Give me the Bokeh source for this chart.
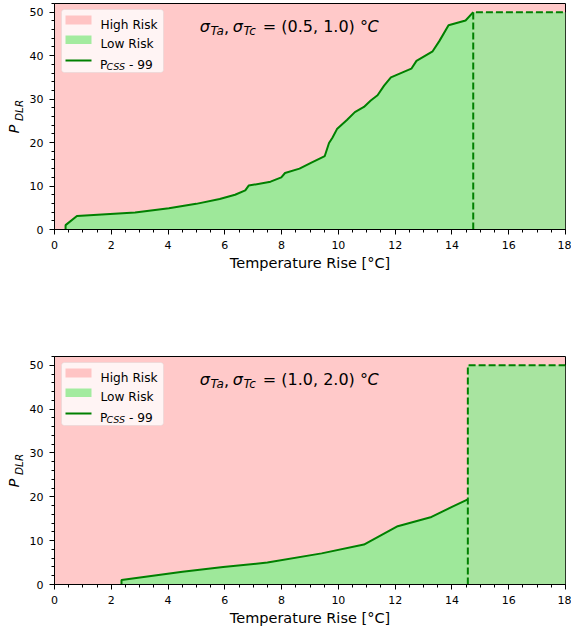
from bokeh.plotting import figure
from bokeh.layouts import column, row
from bokeh.models import Range1d, Label, BoxAnnotation, SingleIntervalTicker
from bokeh.embed import file_html
from bokeh.resources import INLINE

# ---------------- data ----------------
x_max = 18
y_max = 52
p_cap = 50

# panel A: sigma = (0.5, 1.0)
sigma_a = "(0.5, 1.0)"
temp_a = [0.39, 0.39, 0.79, 2.84, 4.03, 4.99, 5.82, 6.36, 6.72, 6.84, 7.61, 7.99,
          8.12, 8.63, 9.05, 9.52, 9.67, 9.79, 9.95, 10.30, 10.58, 10.90, 11.14,
          11.38, 11.61, 11.85, 12.57, 12.75, 13.32, 13.56, 13.88, 14.48, 14.75]
pcss_a = [0, 1.0, 3.1, 3.9, 4.9, 5.9, 7.0, 8.0, 9.0, 10.1, 11.0, 12.0,
          13.0, 14.0, 15.4, 16.9, 19.9, 21.1, 23.1, 25.2, 27.0, 28.2, 29.7,
          30.9, 33.1, 35.0, 37.0, 38.8, 41.0, 43.4, 47.0, 48.1, 50.0]
cut_a = 14.75

# panel B: sigma = (1.0, 2.0)
sigma_b = "(1.0, 2.0)"
temp_b = [2.36, 2.36, 4.51, 5.94, 7.50, 9.41, 10.90, 12.09, 13.28, 14.00, 14.56]
pcss_b = [0, 1.0, 2.9, 4.0, 5.0, 7.1, 9.1, 13.3, 15.4, 17.7, 19.4]
cut_b = 14.56

legend_labels = ["High Risk", "Low Risk"]

# ---------------- style ----------------
PINK = "#ffc9c9"
GREEN_L = "#9ee89a"
GREEN_R = "#a8e4a0"
LINE = "#008000"
FONT = "DejaVu Sans"

LW = 24          # width of the y-label strip
W = 571 - LW     # main figure width
BL, BR = 30, 6


def make_panel(temps, pcss, cut, sigma, height, btop, bbot):
    fh = height - btop - bbot
    fw = W - BL - BR
    sx = fw / x_max
    sy = fh / y_max

    def X(px):
        return px / sx

    def Y(px):
        return y_max - px / sy

    p = figure(width=W, height=height, x_range=Range1d(0, x_max), y_range=Range1d(0, y_max),
               output_backend="svg", toolbar_location=None,
               min_border_left=BL, min_border_right=BR,
               min_border_top=btop, min_border_bottom=bbot)
    p.background_fill_color = PINK
    p.border_fill_color = "white"
    p.outline_line_color = "black"
    p.outline_line_width = 1
    p.grid.visible = False

    # low-risk area under the curve
    p.varea(x=temps, y1=[0] * len(temps), y2=pcss, fill_color=GREEN_L)
    # low-risk area beyond the cut
    p.quad(left=[cut], right=[x_max], bottom=[0], top=[p_cap],
           fill_color=GREEN_R, line_color=None)
    p.line(temps, pcss, line_color=LINE, line_width=2)
    p.line([cut, cut, x_max], [0, p_cap, p_cap], line_color=LINE, line_width=2,
           line_dash="7 3")

    # axes
    p.xaxis.ticker = SingleIntervalTicker(interval=2, num_minor_ticks=4)
    p.yaxis.ticker = SingleIntervalTicker(interval=10, num_minor_ticks=5)
    for ax in (p.xaxis[0], p.yaxis[0]):
        ax.axis_line_color = "black"
        ax.major_tick_line_color = "black"
        ax.minor_tick_line_color = "black"
        ax.major_tick_in = 0
        ax.major_tick_out = 5
        ax.minor_tick_in = 0
        ax.minor_tick_out = 3
        ax.major_label_text_font = FONT
        ax.major_label_text_font_size = "11px"
        ax.major_label_text_color = "black"
        ax.major_label_standoff = 6
    p.xaxis.axis_label = "Temperature Rise [°C]"
    p.xaxis.axis_label_text_font = FONT
    p.xaxis.axis_label_text_font_size = "14.5px"
    p.xaxis.axis_label_text_font_style = "normal"
    p.xaxis.axis_label_text_color = "black"
    p.xaxis.axis_label_standoff = 3

    def lab(xp, yp, text, size, style="normal"):
        p.add_layout(Label(x=X(xp), y=Y(yp), text=text, text_font=FONT,
                           text_font_size=f"{size}px", text_font_style=style,
                           text_color="black", text_align="left",
                           text_baseline="alphabetic"))

    # title-like annotation
    base = 23
    lab(145.3, base, "σ", 16, "italic")
    lab(156.0, base + 4, "Ta", 12, "italic")
    lab(169.5, base, ",", 16)
    lab(178.3, base, "σ", 16, "italic")
    lab(189.0, base + 4, "Tc", 12, "italic")
    lab(208.3, base, f"= {sigma} °", 16)
    lab(313.0, base, "C", 16, "italic")

    # legend
    p.add_layout(BoxAnnotation(left=X(7), right=X(109), top=Y(6), bottom=Y(69),
                               fill_color="white", fill_alpha=0.8,
                               line_color="#cccccc", line_width=1, border_radius=3))
    p.add_layout(BoxAnnotation(left=X(11), right=X(37), top=Y(12), bottom=Y(21),
                               fill_color="#ffc4c4", fill_alpha=1, line_color=None))
    p.add_layout(BoxAnnotation(left=X(11), right=X(37), top=Y(32), bottom=Y(40.5),
                               fill_color="#a3eb9f", fill_alpha=1, line_color=None))
    p.add_layout(BoxAnnotation(left=X(11), right=X(37), top=Y(56), bottom=Y(58),
                               fill_color=LINE, fill_alpha=1, line_color=None))
    lab(46, 21, legend_labels[0], 12.2)
    lab(46, 40.5, legend_labels[1], 12.2)
    lab(45.5, 61, "P", 12.2)
    lab(52, 63, "CSS", 9.5, "italic")
    lab(74.5, 61, "- 99", 12.2)

    # y-axis label strip (P_DLR, rotated); its frame is aligned with the main frame
    lf = figure(width=LW, height=height, x_range=Range1d(0, LW), y_range=Range1d(0, fh),
                output_backend="svg", toolbar_location=None,
                min_border_left=0, min_border_right=0,
                min_border_top=btop, min_border_bottom=bbot,
                x_axis_type=None, y_axis_type=None)
    lf.outline_line_color = None
    lf.grid.visible = False
    lf.background_fill_color = "white"
    lf.border_fill_color = "white"
    for xb, dy, txt, size in ((13.3, 17.0, "P", 14.5), (18.3, 4.5, "DLR", 10.5)):
        lf.add_layout(Label(x=xb, y=fh / 2 - dy, text=txt, text_font=FONT,
                            text_font_size=f"{size}px", text_font_style="italic",
                            text_color="black", text_align="left",
                            text_baseline="alphabetic", angle=1.5708))
    return row(lf, p)


r1 = make_panel(temp_a, pcss_a, cut_a, sigma_a, 354, 3, 125)
r2 = make_panel(temp_b, pcss_b, cut_b, sigma_b, 275, 2, 45)

layout = column(r1, r2)
open("out.html", "w").write(file_html(layout, INLINE))
